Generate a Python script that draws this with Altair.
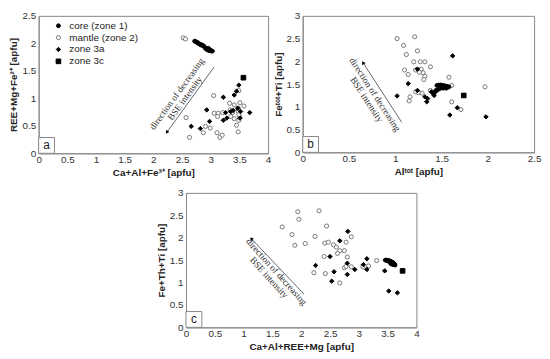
import altair as alt
import pandas as pd

ZONES = ["core (zone 1)", "mantle (zone 2)", "zone 3a", "zone 3c"]

# ---------------- panel a ----------------
a_core_x = [2.72, 2.74, 2.76, 2.77, 2.79, 2.80, 2.82, 2.83, 2.85, 2.86, 2.88, 2.90, 2.92, 2.93, 2.95, 2.97, 2.99, 3.01, 3.03, 2.96]
a_core_y = [2.04, 2.03, 2.02, 2.01, 2.00, 1.99, 1.98, 1.97, 1.97, 1.96, 1.95, 1.92, 1.90, 1.89, 1.88, 1.87, 1.88, 1.86, 1.86, 1.91]
a_mantle_x = [2.52, 2.56, 3.05, 2.57, 2.63, 2.87, 2.91, 2.99, 3.11, 3.16, 3.20, 3.06, 3.13, 3.12, 3.21, 3.33, 3.41, 3.38, 3.35, 3.41, 3.48, 3.51, 3.58, 3.49, 3.48, 3.45, 3.49, 3.51, 3.34, 3.48, 3.49]
a_mantle_y = [2.10, 2.08, 1.05, 0.65, 0.29, 0.375, 0.49, 0.46, 0.375, 0.29, 0.33, 0.73, 0.73, 0.67, 0.74, 0.91, 0.88, 0.74, 0.67, 0.63, 0.76, 0.92, 0.86, 1.14, 0.39, 0.51, 0.60, 0.66, 0.79, 0.82, 0.70]
a_3a_x = [2.66, 2.82, 2.93, 2.98, 3.22, 3.22, 3.28, 3.26, 3.35, 3.41, 3.45, 3.49, 3.47, 3.52, 3.51, 3.68, 3.39]
a_3a_y = [0.49, 0.45, 0.79, 0.58, 1.02, 0.60, 0.64, 0.74, 0.76, 1.06, 1.13, 1.24, 0.82, 0.76, 0.64, 0.74, 0.78]
a_3c_x = [3.57]
a_3c_y = [1.375]

# ---------------- panel b ----------------
b_core_x = [1.45, 1.47, 1.49, 1.50, 1.51, 1.52, 1.53, 1.54, 1.55, 1.56, 1.57, 1.58, 1.50, 1.52, 1.55, 1.48, 1.46, 1.44, 1.43, 1.41]
b_core_y = [1.47, 1.48, 1.48, 1.47, 1.46, 1.47, 1.45, 1.46, 1.44, 1.45, 1.43, 1.44, 1.42, 1.41, 1.41, 1.40, 1.38, 1.36, 1.33, 1.30]
b_mantle_x = [1.02, 1.21, 1.09, 1.12, 1.24, 1.20, 1.27, 1.32, 1.38, 1.10, 1.14, 1.22, 1.28, 1.30, 1.32, 1.31, 1.58, 1.61, 1.38, 1.16, 1.15, 1.22, 1.25, 1.29, 1.61, 1.71, 1.97, 1.26, 1.45]
b_mantle_y = [2.50, 2.54, 2.35, 2.15, 2.23, 1.99, 1.99, 1.99, 1.88, 1.81, 1.71, 1.81, 1.83, 1.75, 1.67, 1.60, 1.65, 1.47, 1.36, 1.22, 1.13, 1.33, 1.31, 1.30, 1.11, 0.94, 1.44, 1.76, 1.36]
b_3a_x = [1.02, 1.62, 1.14, 1.24, 1.24, 1.32, 1.34, 1.39, 1.42, 1.67, 1.59, 1.98, 1.35]
b_3a_y = [1.24, 2.12, 1.51, 1.83, 1.36, 1.22, 1.11, 1.33, 1.25, 0.98, 0.82, 0.78, 1.18]
b_3c_x = [1.74]
b_3c_y = [1.25]

# ---------------- panel c ----------------
c_core_x = [3.46, 3.48, 3.49, 3.50, 3.51, 3.52, 3.53, 3.54, 3.55, 3.56, 3.57, 3.58, 3.59, 3.60, 3.61, 3.62, 3.55, 3.57, 3.60, 3.63]
c_core_y = [1.50, 1.50, 1.49, 1.49, 1.48, 1.49, 1.47, 1.48, 1.46, 1.47, 1.45, 1.44, 1.45, 1.43, 1.42, 1.41, 1.43, 1.41, 1.40, 1.39]
c_mantle_x = [1.94, 2.31, 1.96, 1.67, 2.44, 1.84, 2.24, 1.89, 2.07, 2.41, 2.47, 2.56, 2.61, 2.67, 2.75, 2.78, 2.87, 2.40, 2.80, 2.22, 2.42, 2.67, 2.75, 2.78, 2.87, 3.07, 3.17, 3.31, 2.63]
c_mantle_y = [2.58, 2.60, 2.41, 2.24, 2.26, 2.07, 2.03, 1.83, 1.87, 1.88, 1.90, 1.84, 1.79, 1.71, 1.71, 1.90, 2.02, 1.58, 1.57, 1.22, 1.20, 0.99, 1.33, 1.36, 1.35, 1.35, 1.37, 1.49, 1.65]
c_3a_x = [2.81, 2.67, 2.50, 2.25, 2.57, 2.53, 2.80, 2.80, 2.93, 3.08, 3.14, 3.14, 3.45, 3.52, 3.67]
c_3a_y = [2.14, 1.93, 1.58, 1.38, 1.24, 1.03, 1.43, 1.18, 1.29, 1.40, 1.53, 1.29, 1.26, 0.81, 0.77]
c_3c_x = [3.76]
c_3c_y = [1.26]

# annotation arrows (head first, then tail) and text anchors, in data units
a_arrow_x = [2.24, 3.06]
a_arrow_y = [0.39, 1.57]
b_arrow_x = [0.655, 1.07]
b_arrow_y = [1.96, 0.66]
c_arrow_x = [1.14, 2.05]
c_arrow_y = [1.97, 0.74]
note_lines = ["direction of decreasing", "BSE intensity"]
a_note_x = [2.41, 2.55]
a_note_y = [1.08, 1.00]
b_note_x = [0.78, 0.69]
b_note_y = [1.27, 1.16]
c_note_x = [1.57, 1.44]
c_note_y = [1.24, 1.11]


def make_df(parts):
    rows = []
    for zone, xs, ys in parts:
        for x, y in zip(xs, ys):
            rows.append({"x": x, "y": y, "zone": zone})
    return pd.DataFrame(rows)


def panel(df, xmax, ymax, xtitle, ytitle, w, h, arrow_x, arrow_y, head_angle,
          note_x, note_y, note_angle, letter, show_legend):
    xs = alt.Scale(domain=[0, xmax], nice=False, zero=True)
    ys = alt.Scale(domain=[0, ymax], nice=False, zero=True)
    xvals = [i * 0.5 for i in range(int(round(xmax / 0.5)) + 1)]
    yvals = [i * 0.5 for i in range(int(round(ymax / 0.5)) + 1)]
    xax = alt.Axis(values=xvals, format="~g", title=xtitle, labelFlush=False, labelOverlap=False,
                   tickCount=len(xvals))
    yax = alt.Axis(values=yvals, format="~g", title=ytitle, labelFlush=False, labelOverlap=False,
                   tickCount=len(yvals))
    X = lambda: alt.X("x:Q", scale=xs, axis=xax)
    Y = lambda: alt.Y("y:Q", scale=ys, axis=yax)

    if show_legend:
        leg = alt.Legend(title=None, orient="none", legendX=15, legendY=5, padding=0,
                         labelFont="Liberation Sans", labelFontSize=10, labelColor="#222",
                         rowPadding=2, labelOffset=6, symbolStrokeWidth=1)
    else:
        leg = None

    def ch(cls, rng):
        if leg is None:
            return cls("zone:N", scale=alt.Scale(domain=ZONES, range=rng), legend=None)
        return cls("zone:N", scale=alt.Scale(domain=ZONES, range=rng), legend=leg)

    pts = alt.Chart(df).mark_point(strokeWidth=1, opacity=1).encode(
        x=X(), y=Y(),
        shape=ch(alt.Shape, ["circle", "circle", "diamond", "square"]),
        fill=ch(alt.Fill, ["black", "white", "black", "black"]),
        stroke=ch(alt.Stroke, ["black", "#777777", "black", "black"]),
        size=ch(alt.Size, [15, 22, 15, 22]),
        order=alt.Order("o:Q"),
    ).transform_calculate(o="datum.zone == 'mantle (zone 2)' ? 0 : 1")

    adf = pd.DataFrame({"x": arrow_x, "y": arrow_y, "i": [0, 1]})
    line = alt.Chart(adf).mark_line(color="#666666", strokeWidth=1).encode(
        x=X(), y=Y(), order="i:Q")
    head = alt.Chart(adf.iloc[[0]]).mark_point(shape="triangle", filled=True, color="black",
                                               size=16, angle=head_angle, opacity=1).encode(
        x=X(), y=Y())

    ndf = pd.DataFrame({"x": note_x, "y": note_y, "t": note_lines})
    note = alt.Chart(ndf).mark_text(font="Liberation Serif", fontSize=9.5, angle=note_angle,
                                    color="#333333", align="center", baseline="middle").encode(
        x=X(), y=Y(), text="t:N")

    one = pd.DataFrame({"k": [0]})
    box = alt.Chart(one).mark_rect(fill="white", stroke="#888888", strokeWidth=1).encode(
        x=alt.value(0), x2=alt.value(16), y=alt.value(h - 16), y2=alt.value(h))
    lab = alt.Chart(one).mark_text(font="Liberation Sans", fontSize=12, color="#222",
                                   align="center", baseline="middle").encode(
        x=alt.value(8), y=alt.value(h - 8), text=alt.value(letter))

    return alt.layer(pts, line, head, note, box, lab).properties(width=w, height=h)


df_a = make_df([(ZONES[1], a_mantle_x, a_mantle_y), (ZONES[0], a_core_x, a_core_y),
                (ZONES[2], a_3a_x, a_3a_y), (ZONES[3], a_3c_x, a_3c_y)])
df_b = make_df([(ZONES[1], b_mantle_x, b_mantle_y), (ZONES[0], b_core_x, b_core_y),
                (ZONES[2], b_3a_x, b_3a_y), (ZONES[3], b_3c_x, b_3c_y)])
df_c = make_df([(ZONES[1], c_mantle_x, c_mantle_y), (ZONES[0], c_core_x, c_core_y),
                (ZONES[2], c_3a_x, c_3a_y), (ZONES[3], c_3c_x, c_3c_y)])

pa = panel(df_a, 4, 2.5, "Ca+Al+Fe³⁺ [apfu]", "REE+Mg+Fe²⁺ [apfu]", 232, 139,
           a_arrow_x, a_arrow_y, 216, a_note_x, a_note_y, 306, "a", True)
pb = panel(df_b, 2.5, 3, "Alᵗᵒᵗ [apfu]", "Feᵗᵒᵗ+Ti [apfu]", 234, 138,
           b_arrow_x, b_arrow_y, 327, b_note_x, b_note_y, 57, "b", False)
pc = panel(df_c, 4, 3, "Ca+Al+REE+Mg [apfu]", "Fe+Th+Ti [apfu]", 233, 136,
           c_arrow_x, c_arrow_y, 316, c_note_x, c_note_y, 48, "c", False)

spacer = alt.Chart(pd.DataFrame({"k": [0]})).mark_point(opacity=0, size=1).encode(
    x=alt.value(0), y=alt.value(0)).properties(
    width=118, height=10, view=alt.ViewBackground(strokeOpacity=0))

ind = dict(shape="independent", fill="independent", stroke="independent", size="independent")
top = alt.hconcat(pa, pb, spacing=0).resolve_scale(**ind)
bottom = alt.hconcat(spacer, pc, spacing=0).resolve_scale(**ind)
chart = alt.vconcat(top, bottom, spacing=9).resolve_scale(**ind).properties(
    padding=0, background="white"
).configure_view(stroke="#888888", strokeWidth=1).configure_axis(
    domainColor="#888888", domainWidth=1, ticks=False, grid=False,
    labelFont="Liberation Sans", labelFontSize=10, labelColor="#333333",
    titleFont="Liberation Sans", titleFontSize=10, titleFontWeight="bold", titleColor="#222222",
    titlePadding=3
).configure_axisX(labelPadding=1).configure_axisY(labelPadding=3)

chart.save("out.html", embed_options={"renderer": "svg", "actions": False})
